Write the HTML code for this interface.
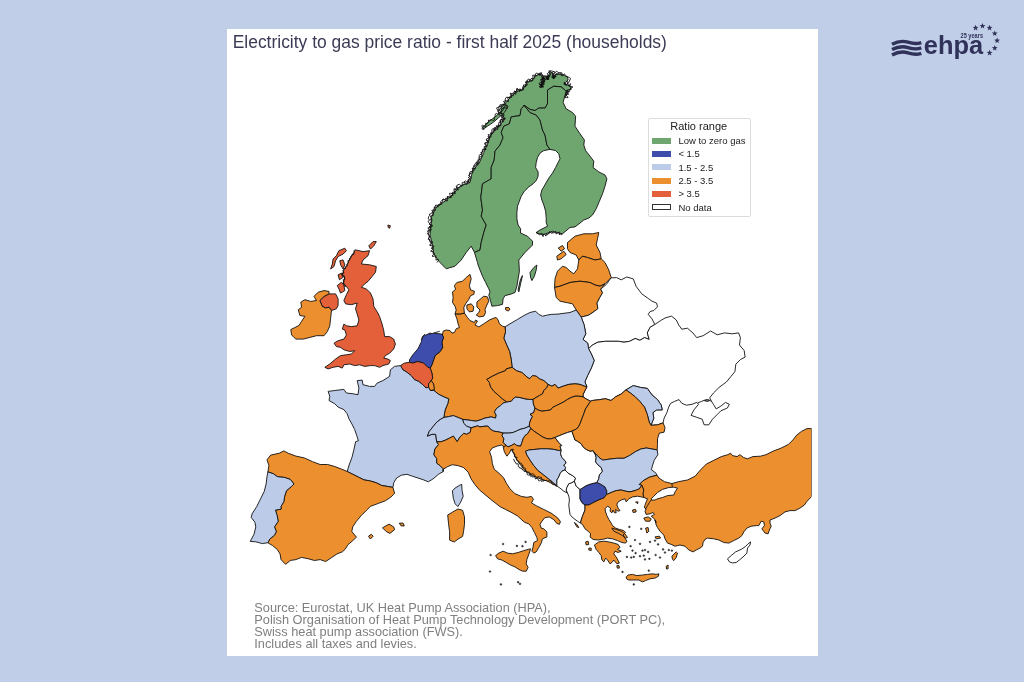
<!DOCTYPE html>
<html lang="en">
<head>
<meta charset="utf-8">
<title>Electricity to gas price ratio - first half 2025 (households)</title>
<style>
html,body{margin:0;padding:0;}
body{width:1024px;height:682px;background:#c0cee8;position:relative;overflow:hidden;font-family:"Liberation Sans",Arial,sans-serif;}
#panel{position:absolute;left:227px;top:29px;width:591.2px;height:626.5px;background:#fff;}
#title{position:absolute;left:232.7px;top:31.8px;font-size:17.46px;line-height:20px;color:#3b3b56;white-space:nowrap;}
#src div{position:absolute;left:254.3px;font-size:12.78px;line-height:11.85px;color:#808080;white-space:nowrap;}
#legend{position:absolute;left:647.8px;top:118px;width:101px;height:97px;border:1px solid #dcdcdc;border-radius:2px;background:#fff;box-sizing:content-box;}
#legend .lt{position:absolute;left:-0.6px;width:100%;top:1px;text-align:center;font-size:11px;line-height:13px;color:#222;}
#legend .sw{position:absolute;left:3.3px;width:19px;height:6px;}
#legend .lb{position:absolute;left:29.6px;font-size:9.5px;line-height:11px;color:#222;white-space:nowrap;}
#map{position:absolute;left:0;top:0;}
#logo{position:absolute;left:0;top:0;}
</style>
</head>
<body>
<div id="panel"></div>
<div id="title">Electricity to gas price ratio - first half 2025 (households)</div>
<svg id="map" width="1024" height="682" viewBox="0 0 1024 682">
<defs><clipPath id="mc"><rect x="227" y="60" width="584.6" height="540"/></clipPath></defs>
<g clip-path="url(#mc)" stroke="#111" stroke-width="0.9" stroke-linejoin="round">
<path fill="#6fa56f" d="M474.5,252.5 471.2,246.2 466.2,252.5 461.2,260.0 455.0,266.2 446.2,268.8 438.8,261.2 433.8,253.8 432.5,245.0 430.0,235.0 431.2,225.0 431.2,217.5 436.2,207.5 445.0,201.2 452.5,195.0 460.0,186.2 470.0,182.5 472.5,171.2 479.5,162.5 483.8,152.5 488.0,143.0 490.0,136.2 495.6,130.0 501.2,123.8 504.4,118.8 502.5,113.8 498.8,110.0 505.0,103.8 511.2,96.2 517.5,91.2 522.5,90.0 527.5,82.5 532.5,80.0 535.6,76.2 540.0,73.8 542.5,77.5 541.2,87.5 543.8,78.8 546.2,76.2 548.1,80.0 549.4,73.1 552.5,72.5 553.8,78.8 556.2,73.8 562.5,75.0 567.5,76.9 568.1,80.0 563.8,83.8 570.6,86.2 571.2,89.4 567.5,90.0 566.2,95.6 564.4,97.5 566.2,91.2 561.2,86.9 553.8,86.2 547.5,90.0 547.5,103.8 545.0,108.1 538.8,108.1 535.0,110.6 530.0,109.4 524.0,105.2 523.1,106.9 521.2,108.8 520.0,115.6 511.2,116.9 509.4,123.8 503.8,126.2 501.2,132.5 503.1,137.5 500.0,145.0 495.0,151.2 494.2,160.0 491.2,167.5 491.2,178.8 482.5,183.8 480.8,197.5 482.5,210.0 481.2,216.2 486.2,225.0 483.8,232.5 481.2,242.5 480.0,250.0 474.5,252.5Z"/>
<path fill="#6fa56f" d="M524.0,105.2 530.0,112.5 536.2,115.0 540.0,120.0 542.5,130.0 545.0,135.0 546.9,145.0 550.0,149.4 543.8,150.6 540.0,153.1 537.5,157.5 536.2,162.5 535.6,167.5 538.1,171.9 538.1,176.2 536.2,180.6 533.1,183.8 528.8,186.9 524.4,191.2 521.2,196.2 519.4,201.2 517.5,206.2 516.9,212.5 516.9,218.8 518.1,225.0 520.6,228.8 520.5,233.0 527.5,236.2 532.5,241.2 532.5,245.0 525.0,252.5 518.8,260.0 519.4,271.2 518.1,278.8 516.9,286.2 515.0,292.5 510.0,294.4 505.0,295.6 503.1,298.8 502.5,304.4 497.5,305.6 491.9,306.2 490.6,301.2 488.8,295.0 490.0,291.9 488.8,288.8 485.6,282.5 482.5,276.2 480.0,270.0 478.1,265.0 477.5,262.5 474.5,252.5 480.0,250.0 481.2,242.5 483.8,232.5 486.2,225.0 481.2,216.2 482.5,210.0 480.8,197.5 482.5,183.8 491.2,178.8 491.2,167.5 494.2,160.0 495.0,151.2 500.0,145.0 503.1,137.5 501.2,132.5 503.8,126.2 509.4,123.8 511.2,116.9 520.0,115.6 521.2,108.8 523.1,106.9 524.0,105.2ZM530.0,272.5 533.8,267.5 536.9,265.0 536.2,270.0 534.4,276.2 531.9,280.6 530.6,277.5ZM522.5,275.6 520.6,283.8 518.8,291.9 518.1,290.0 520.0,281.2 521.9,276.2Z"/>
<path fill="#6fa56f" d="M524.0,105.2 530.0,109.4 535.0,110.6 538.8,108.1 545.0,108.1 547.5,103.8 547.5,90.0 553.8,86.2 561.2,86.9 566.2,91.2 564.4,97.5 563.1,102.5 566.2,108.8 572.5,112.5 575.6,116.2 575.0,126.2 580.0,133.8 584.4,140.0 583.8,145.0 585.6,150.6 590.0,156.2 593.8,161.2 593.1,167.5 598.8,171.9 605.0,175.0 606.9,178.8 605.0,186.2 602.5,193.8 599.4,201.2 596.2,208.8 592.5,215.0 588.8,218.1 583.8,220.0 580.0,223.1 575.0,226.9 570.0,227.5 562.5,233.8 556.2,232.5 552.5,231.2 542.5,235.0 536.2,232.5 540.0,230.0 547.5,226.2 546.2,222.5 546.2,217.5 545.6,211.2 543.8,205.0 541.9,200.0 540.6,195.0 541.9,190.0 543.8,186.9 546.2,182.5 548.8,178.1 552.5,173.1 555.6,167.5 558.1,162.5 560.0,158.8 558.8,153.8 555.6,150.6 550.0,149.4 546.9,145.0 545.0,135.0 542.5,130.0 540.0,120.0 536.2,115.0 530.0,112.5Z"/>
<path fill="#6fa56f" d="M481.9,128.5 486.9,123.1 492.5,118.8 497.5,115.0 503.1,110.0 505.6,105.0 508.1,106.2 504.4,112.5 498.8,117.5 493.8,121.9 487.5,126.2 482.8,129.4Z"/>
<path fill="#ec8f2e" d="M578.8,260.0 576.2,255.0 570.0,252.5 567.5,248.8 567.5,242.5 575.0,236.2 583.8,233.8 592.5,233.8 598.8,232.5 597.5,238.8 596.2,245.0 600.0,252.5 601.2,258.8 595.0,260.0 587.5,257.5 582.5,256.2 578.8,260.0ZM558.2,248.0 562.5,245.5 564.5,248.8 561.2,251.2ZM556.8,256.2 563.8,251.2 566.2,254.5 561.2,258.8 557.5,260.0Z"/>
<path fill="#ec8f2e" d="M578.8,260.0 577.5,268.8 573.8,273.8 570.0,271.2 566.2,267.5 562.5,266.2 557.5,271.2 555.0,278.8 554.5,287.5 560.0,286.2 570.0,282.5 580.0,281.2 590.0,282.5 595.0,285.0 600.0,286.2 605.0,283.8 611.2,277.5 608.8,270.0 605.0,262.5 601.2,258.8 595.0,260.0 587.5,257.5 582.5,256.2Z"/>
<path fill="#ec8f2e" d="M554.5,287.5 556.2,297.5 560.0,301.2 566.2,302.5 572.5,303.8 576.2,310.0 581.2,317.1 588.6,315.2 594.2,311.5 597.9,308.7 597.0,303.1 599.8,297.5 602.6,292.8 600.7,289.1 605.0,283.8 600.0,286.2 595.0,285.0 590.0,282.5 580.0,281.2 570.0,282.5 560.0,286.2 554.5,287.5Z"/>
<path fill="#ffffff" d="M606.3,284.5 611.0,277.9 616.6,277.6 621.2,279.8 626.8,277.0 633.3,278.9 636.1,286.3 641.7,293.8 648.2,298.4 652.0,301.2 656.6,303.1 657.5,306.8 653.8,310.5 650.1,311.5 648.2,314.3 652.0,318.9 654.8,324.5 650.1,327.3 647.3,332.9 649.2,339.4 644.5,337.6 639.9,340.3 635.2,338.5 629.6,341.3 624.0,342.2 618.4,341.3 612.8,341.3 605.4,341.3 597.9,342.2 592.4,345.0 588.6,348.7 587.7,343.1 583.0,339.4 585.8,333.8 584.0,324.5 581.2,317.1 588.6,315.2 594.2,311.5 597.9,308.7 597.0,303.1 599.8,297.5 602.6,292.8 600.7,289.1Z"/>
<path fill="#ffffff" d="M654.8,324.5 660.3,320.8 665.0,318.0 671.5,316.1 676.2,319.9 679.0,325.4 681.8,329.2 687.4,328.2 692.9,332.9 696.7,337.6 703.2,335.7 710.6,331.0 717.2,334.8 724.6,332.9 732.1,333.8 738.6,332.9 740.4,337.6 739.5,345.0 744.2,350.6 745.1,357.1 740.4,359.6 735.8,364.2 734.9,371.7 731.1,376.3 726.5,381.9 719.0,387.5 713.4,393.1 709.7,397.8 711.6,401.5 713.4,404.3 716.2,408.9 720.9,406.1 725.5,402.4 729.3,404.3 727.4,408.0 720.9,410.8 717.2,414.5 712.5,419.2 708.8,424.8 704.1,424.8 702.2,419.2 696.7,417.3 691.1,415.4 693.9,409.9 698.5,404.3 696.7,402.4 692.0,404.3 686.4,405.2 681.8,403.3 679.0,399.6 674.3,401.5 670.6,403.3 668.7,407.1 666.9,412.6 664.1,418.2 663.1,422.9 657.5,424.8 651.0,425.3 653.8,418.2 652.9,412.6 656.6,409.9 662.2,409.9 661.3,405.2 657.5,399.6 652.0,394.9 647.3,388.4 640.8,387.5 633.3,385.6 625.9,389.9 621.2,394.0 615.6,396.8 611.0,400.5 605.4,398.7 599.8,399.6 592.4,400.5 590.6,401.2 586.9,399.4 583.1,396.9 583.1,394.4 585.0,390.6 586.9,386.9 584.9,381.9 587.7,375.4 591.4,367.9 594.2,360.5 591.4,354.0 588.6,348.8 592.4,345.0 597.9,342.2 605.4,341.3 612.8,341.3 618.4,341.3 624.0,342.2 629.6,341.3 635.2,338.5 639.9,340.3 644.5,337.6 649.2,339.4 647.3,332.9 650.1,327.3Z"/>
<path fill="#bccbe8" d="M625.9,389.9 630.5,393.1 635.2,396.8 639.9,401.5 644.5,407.1 647.3,414.5 649.2,422.0 651.0,425.3 653.8,418.2 652.9,412.6 656.6,409.9 662.2,409.9 661.3,405.2 657.5,399.6 652.0,394.9 647.3,388.4 640.8,387.5 633.3,385.6Z"/>
<path fill="#bccbe8" d="M505.0,326.9 510.0,323.8 517.5,319.4 523.8,315.6 530.0,312.5 535.6,311.2 538.8,314.4 542.5,316.2 547.5,315.0 551.2,314.4 558.0,314.1 560.0,313.8 570.0,312.5 576.2,310.0 581.2,317.1 584.0,324.5 585.8,333.8 583.0,339.4 587.7,343.1 588.6,348.7 591.4,354.0 594.2,360.5 591.4,367.9 587.7,375.4 584.9,381.9 586.8,386.6 584.4,386.2 580.0,384.4 575.0,383.8 568.8,384.4 563.1,386.2 558.1,388.1 555.0,384.4 551.9,386.2 548.1,384.4 543.8,380.6 539.4,378.8 536.2,376.2 532.5,375.6 529.4,378.8 526.9,376.9 521.9,372.5 516.2,370.6 512.1,367.3 511.3,359.8 509.6,351.5 506.3,344.0 503.8,338.2 505.5,331.6Z"/>
<path fill="#ec8f2e" d="M442.5,335.0 443.1,331.2 446.2,330.0 450.0,330.6 451.9,333.1 454.4,332.5 456.2,328.8 459.4,327.5 458.1,323.8 456.9,318.8 455.0,313.8 460.0,314.0 464.4,313.1 467.5,317.5 470.0,320.6 474.4,322.5 475.6,320.0 477.5,321.2 475.0,325.0 478.8,326.9 483.8,323.8 489.4,320.0 493.8,318.1 496.2,317.5 498.1,320.0 499.4,323.8 502.5,326.2 505.0,326.9 505.5,331.6 503.8,338.2 506.3,344.0 509.6,351.5 511.3,359.8 512.1,367.3 506.3,368.9 505.6,370.6 498.8,373.1 492.5,376.2 486.9,379.4 489.4,382.5 490.6,386.9 493.8,391.2 498.8,395.6 503.1,399.4 506.9,401.9 503.1,403.1 500.6,405.6 496.9,408.1 494.4,411.9 496.2,415.0 495.6,418.1 491.2,416.9 485.0,418.1 480.0,420.0 475.8,421.2 470.2,420.3 462.8,419.4 458.1,417.5 453.4,415.6 448.8,416.6 443.8,417.5 445.1,410.1 447.8,403.5 448.8,398.9 444.1,397.0 438.5,394.2 433.9,390.5 433.6,383.9 431.1,380.6 432.7,378.1 431.9,373.1 430.2,368.1 431.9,364.8 433.6,359.8 435.2,355.6 440.2,351.5 442.7,347.4 441.9,342.4 443.5,337.4 441.9,334.1Z"/>
<path fill="#ec8f2e" d="M464.4,313.1 460.0,314.0 455.0,313.8 456.2,310.0 455.0,306.2 452.5,302.5 453.1,297.5 452.5,291.9 455.6,289.4 454.4,285.6 456.9,282.5 462.5,281.2 466.2,277.5 470.0,274.4 471.2,278.8 469.4,285.6 470.6,290.0 474.4,291.2 473.8,294.4 470.6,295.6 468.8,299.4 465.6,303.8 463.8,307.5ZM466.9,305.0 471.2,303.8 473.8,306.9 473.1,311.2 469.4,311.9 466.9,308.8ZM476.9,301.9 480.0,299.4 483.8,296.2 487.5,296.9 488.8,301.2 486.9,305.0 485.0,309.4 485.6,312.5 483.8,316.2 479.4,316.9 476.2,315.0 478.8,312.5 480.0,310.0 476.9,306.9ZM505.6,307.5 508.8,307.5 510.0,309.4 508.1,311.0 505.6,309.8Z"/>
<path fill="#3e4cab" d="M409.5,362.3 409.5,359.8 412.8,354.8 417.8,349.0 421.1,342.4 422.8,336.6 427.8,334.1 434.4,333.2 441.9,334.1 443.5,337.4 441.9,342.4 442.7,347.4 440.2,351.5 435.2,355.6 433.6,359.8 431.9,364.8 430.2,368.1 427.8,367.3 423.6,363.1 417.8,361.5 412.8,363.1Z"/>
<path fill="#e4603a" d="M400.4,365.6 404.5,363.1 409.5,362.3 412.8,363.1 417.8,361.5 423.6,363.1 427.8,367.3 430.2,368.1 431.9,373.1 432.7,378.1 431.1,380.6 428.6,383.9 428.6,387.2 426.1,388.0 422.8,384.7 418.6,381.4 414.5,379.7 411.1,375.6 407.0,372.3 402.9,369.8Z"/>
<path fill="#ec8f2e" d="M431.1,380.6 428.6,383.9 428.6,387.2 430.2,390.5 434.4,389.7 433.6,383.9Z"/>
<path fill="#bccbe8" d="M400.4,365.6 394.6,366.4 390.4,369.8 389.6,376.4 382.9,380.6 377.1,383.1 374.6,386.4 369.6,386.4 363.0,384.7 362.2,380.1 357.2,380.6 358.9,388.0 358.0,394.7 353.1,393.8 346.4,393.0 343.9,389.4 334.8,390.5 328.1,391.4 329.8,396.3 329.0,400.5 334.8,403.8 338.1,407.1 343.9,409.6 347.2,413.8 348.9,418.7 351.9,424.0 354.7,429.6 356.6,435.2 358.4,440.8 355.6,441.7 353.8,450.1 351.9,457.6 349.1,465.0 347.2,471.5 352.8,474.3 358.4,477.1 364.0,479.9 369.6,480.8 376.1,482.7 381.7,485.5 387.3,486.4 392.9,487.4 393.8,482.7 396.6,478.0 401.3,475.2 406.9,474.3 412.4,476.2 418.0,478.0 423.6,479.9 428.3,481.8 432.9,479.0 438.5,474.3 443.2,471.5 443.2,468.7 440.4,465.9 436.7,463.1 436.7,458.5 433.9,454.8 434.8,449.2 438.5,444.5 436.7,441.7 435.7,434.3 432.0,434.3 427.4,436.1 429.2,431.5 432.9,426.8 436.7,422.2 440.4,419.4 443.8,417.5 445.1,410.1 447.8,403.5 448.8,398.9 444.1,397.0 438.5,394.2 433.9,390.5 430.2,390.5 428.6,387.2 426.1,388.0 422.8,384.7 418.6,381.4 414.5,379.7 411.1,375.6 407.0,372.3 402.9,369.8ZM452.4,490.8 455.1,488.0 459.8,485.2 461.7,484.3 462.0,489.9 463.2,496.4 460.7,502.0 457.9,506.6 455.1,503.8 453.3,498.2Z"/>
<path fill="#bccbe8" d="M443.8,417.5 440.4,419.4 436.7,422.2 432.9,426.8 429.2,431.5 427.4,436.1 432.0,434.3 435.7,434.3 436.7,441.7 441.3,441.7 446.0,439.9 449.7,438.0 453.4,436.1 457.2,441.7 459.9,437.1 463.7,433.3 466.5,434.3 470.2,432.4 471.1,427.8 466.5,425.9 463.7,423.1 462.8,419.4 458.1,417.5 453.4,415.6 448.8,416.6Z"/>
<path fill="#bccbe8" d="M462.8,419.4 470.2,420.3 475.8,421.2 480.0,420.0 485.0,418.1 491.2,416.9 495.6,418.1 496.2,415.0 494.4,411.9 496.9,408.1 500.6,405.6 503.1,403.1 506.9,401.9 511.2,401.2 513.1,398.8 515.6,396.9 520.0,397.5 525.0,398.8 529.4,399.4 533.1,399.4 533.4,403.8 535.0,408.1 533.8,412.5 530.0,414.4 532.5,416.2 530.6,420.0 529.4,423.8 529.4,426.2 525.0,428.1 520.0,429.4 516.2,431.2 513.1,432.5 508.8,433.1 503.1,433.1 498.8,431.9 493.8,431.2 490.6,429.4 488.1,426.2 485.0,426.2 480.0,426.9 477.6,425.9 471.1,427.8 466.5,425.9 463.7,423.1Z"/>
<path fill="#ec8f2e" d="M512.1,367.3 516.2,370.6 521.9,372.5 526.9,376.9 529.4,378.8 532.5,375.6 536.2,376.2 539.4,378.8 543.8,380.6 548.1,384.4 546.9,387.5 543.8,390.6 542.5,393.8 539.4,395.6 535.0,398.1 533.1,399.4 529.4,399.4 525.0,398.8 520.0,397.5 515.6,396.9 513.1,398.8 511.2,401.2 506.9,401.9 503.1,399.4 498.8,395.6 493.8,391.2 490.6,386.9 489.4,382.5 486.9,379.4 492.5,376.2 498.8,373.1 505.6,370.6 506.3,368.9Z"/>
<path fill="#ec8f2e" d="M548.1,384.4 551.9,386.2 555.0,384.4 558.1,388.1 563.1,386.2 568.8,384.4 575.0,383.8 580.0,384.4 584.4,386.2 586.9,386.9 585.0,390.6 583.1,394.4 583.1,396.9 578.8,396.2 575.0,396.2 571.2,397.5 567.5,399.4 563.8,401.9 560.0,403.8 556.2,405.6 552.5,407.5 550.6,410.0 546.2,410.6 541.9,411.2 538.1,410.0 535.0,408.1 533.4,403.8 533.1,399.4 535.0,398.1 539.4,395.6 542.5,393.8 543.8,390.6 546.9,387.5Z"/>
<path fill="#ec8f2e" d="M535.0,408.1 538.1,410.0 541.9,411.2 546.2,410.6 550.6,410.0 552.5,407.5 556.2,405.6 560.0,403.8 563.8,401.9 567.5,399.4 571.2,397.5 575.0,396.2 578.8,396.2 583.1,396.9 586.9,399.4 590.6,401.2 588.1,405.0 585.6,408.8 583.8,413.8 581.9,418.8 580.0,423.8 578.1,427.5 575.6,429.4 571.9,431.2 567.5,432.5 562.5,434.4 558.1,436.2 555.0,437.5 551.2,438.8 546.9,438.8 542.5,436.9 538.8,434.4 535.0,431.9 531.9,429.4 530.6,428.5 529.4,426.2 529.4,423.8 530.6,420.0 532.5,416.2 530.0,414.4 533.8,412.5Z"/>
<path fill="#bccbe8" d="M503.1,433.1 508.8,433.1 513.1,432.5 516.2,431.2 520.0,429.4 525.0,428.1 529.4,426.2 530.6,428.5 530.0,430.0 527.5,433.8 525.0,435.6 523.1,438.8 521.9,442.5 520.6,446.2 516.9,445.6 514.4,443.8 511.2,445.6 508.1,446.9 505.6,445.0 503.1,442.5 503.8,438.8 501.9,435.6Z"/>
<path fill="#ec8f2e" d="M530.6,428.5 531.9,429.4 535.0,431.9 538.8,434.4 542.5,436.9 546.9,438.8 551.2,438.8 555.0,437.5 556.9,440.0 558.8,442.5 561.9,445.6 560.0,446.2 561.2,450.0 558.8,450.6 553.8,449.4 547.5,448.8 541.2,448.8 535.0,449.4 528.8,450.0 525.6,451.2 526.9,455.0 530.0,460.0 533.8,465.6 538.1,470.6 543.8,475.0 549.4,479.4 553.8,483.1 556.9,486.0 552.5,483.8 547.5,481.2 541.9,479.4 536.9,477.5 530.6,474.4 525.0,470.6 520.6,465.0 516.9,460.0 513.8,453.8 511.2,449.4 509.4,453.1 506.9,456.2 504.4,451.9 503.1,446.9 505.6,445.0 508.1,446.9 511.2,445.6 514.4,443.8 516.9,445.6 520.6,446.2 521.9,442.5 523.1,438.8 525.0,435.6 527.5,433.8 530.0,430.0Z"/>
<path fill="#bccbe8" d="M556.9,486.0 553.8,483.1 549.4,479.4 543.8,475.0 538.1,470.6 533.8,465.6 530.0,460.0 526.9,455.0 525.6,451.2 528.8,450.0 535.0,449.4 541.2,448.8 547.5,448.8 553.8,449.4 558.8,450.6 561.2,450.0 560.6,453.8 561.9,457.5 565.0,460.6 566.2,463.1 563.8,465.0 565.6,467.5 565.0,470.0 561.9,471.2 560.0,473.8 558.8,476.9 556.9,480.0 556.9,483.8Z"/>
<path fill="#ffffff" d="M556.9,486.0 556.9,483.8 556.9,480.0 558.8,476.9 560.0,473.8 561.9,471.2 565.0,470.0 568.1,473.1 572.5,475.6 575.6,478.1 574.4,481.2 571.2,483.1 568.8,483.8 566.9,487.5 566.2,490.0 567.5,493.1 563.8,491.2 560.0,488.1Z"/>
<path fill="#ffffff" d="M567.5,493.1 566.2,490.0 566.9,487.5 568.8,483.8 571.2,483.1 574.4,481.2 576.2,486.2 580.0,489.4 580.0,493.8 580.0,498.8 581.9,502.5 585.0,505.0 585.0,510.0 582.5,516.2 581.2,520.0 580.6,523.1 577.5,521.2 575.0,519.4 571.9,516.9 570.0,514.4 569.4,510.0 568.8,505.0 569.4,500.0 568.8,496.2Z"/>
<path fill="#3e4cab" d="M580.0,489.4 581.2,488.8 586.2,485.6 591.2,483.8 596.9,482.5 601.2,484.4 605.0,486.9 606.9,491.2 606.5,494.6 603.8,498.1 600.0,499.4 596.2,501.2 592.5,503.1 588.8,505.0 585.0,505.0 581.9,502.5 580.0,498.8 580.0,493.8Z"/>
<path fill="#ffffff" d="M555.0,437.5 558.1,436.2 562.5,434.4 567.5,432.5 571.9,431.2 575.0,440.0 577.5,441.2 581.2,443.8 583.1,446.9 586.2,449.4 590.0,451.2 593.1,450.6 593.8,451.9 595.0,453.8 596.2,457.5 595.6,461.9 598.1,465.0 601.2,467.5 602.5,471.2 599.4,475.0 598.8,478.8 596.9,482.5 591.2,483.8 586.2,485.6 581.2,488.8 580.0,489.4 576.2,486.2 574.4,481.2 575.6,478.1 572.5,475.6 568.1,473.1 565.0,470.0 565.6,467.5 563.8,465.0 566.2,463.1 565.0,460.6 561.9,457.5 560.6,453.8 561.2,450.0 560.0,446.2 561.9,445.6 558.8,442.5 556.9,440.0Z"/>
<path fill="#ec8f2e" d="M590.6,401.2 592.4,400.5 599.8,399.6 605.4,398.7 611.0,400.5 615.6,396.8 621.2,394.0 625.9,389.9 630.5,393.1 635.2,396.8 639.9,401.5 644.5,407.1 647.3,414.5 649.2,422.0 651.0,425.3 657.5,424.8 663.1,422.9 665.0,427.6 664.1,432.2 659.4,433.1 657.5,438.7 657.5,444.3 657.2,449.9 652.0,449.0 646.4,448.0 640.8,449.0 635.2,451.8 629.6,455.5 624.0,458.3 616.6,458.3 609.1,459.2 602.6,460.1 598.9,457.4 593.8,451.9 593.1,450.6 590.0,451.2 586.2,449.4 583.1,446.9 581.2,443.8 577.5,441.2 575.0,440.0 571.9,431.2 575.6,429.4 578.1,427.5 580.0,423.8 581.9,418.8 583.8,413.8 585.6,408.8 588.1,405.0Z"/>
<path fill="#bccbe8" d="M593.8,451.9 598.9,457.4 602.6,460.1 609.1,459.2 616.6,458.3 624.0,458.3 629.6,455.5 635.2,451.8 640.8,449.0 646.4,448.0 652.0,449.0 657.2,449.9 657.9,454.7 654.2,460.3 652.4,465.9 651.4,469.6 656.1,473.3 657.0,475.2 649.6,477.1 643.0,480.8 639.3,484.5 641.9,485.0 639.4,488.8 635.0,490.6 630.0,491.9 625.6,491.2 621.2,490.0 616.2,490.6 611.2,492.5 606.5,494.6 606.9,491.2 605.0,486.9 601.2,484.4 596.9,482.5 598.8,478.8 599.4,475.0 602.5,471.2 601.2,467.5 598.1,465.0 595.6,461.9 596.2,457.5 595.0,453.8Z"/>
<path fill="#ec8f2e" d="M585.0,505.0 588.8,505.0 592.5,503.1 596.2,501.2 600.0,499.4 603.8,498.1 606.5,494.6 611.2,492.5 616.2,490.6 621.2,490.0 625.6,491.2 630.0,491.9 635.0,490.6 639.4,488.8 641.9,485.0 643.8,490.0 643.1,493.8 643.8,497.5 641.2,496.9 637.5,496.2 632.5,496.9 628.8,498.8 626.2,501.9 625.0,498.8 621.2,500.0 617.5,502.5 616.9,505.0 618.1,508.1 620.0,510.6 618.1,511.2 615.6,509.4 616.2,512.8 614.4,512.8 613.1,510.0 611.9,512.8 610.0,511.2 610.6,508.1 607.5,506.2 605.0,508.8 605.6,511.9 606.9,515.6 608.8,519.4 611.2,523.1 612.5,525.6 615.6,528.1 619.4,529.4 623.8,530.6 625.6,532.5 623.1,535.0 625.0,538.1 626.9,541.2 625.6,543.1 621.9,542.5 617.5,540.6 612.5,538.8 607.5,538.1 602.5,539.4 598.1,540.0 593.1,539.4 590.0,536.9 590.6,533.8 588.1,531.2 585.0,528.8 582.5,524.4 580.6,523.1 581.2,520.0 582.5,516.2 585.0,510.0ZM594.4,545.0 598.8,541.9 603.8,541.2 608.8,541.9 613.8,543.1 618.1,544.4 620.0,547.5 617.5,549.4 621.2,551.2 618.1,552.5 615.0,551.2 613.8,553.8 616.9,558.1 619.4,563.1 616.9,563.8 613.8,560.0 611.9,562.5 610.0,563.8 607.5,560.0 605.6,558.1 603.8,561.9 601.9,560.0 601.2,555.6 598.8,552.5 596.2,549.4ZM611.9,528.1 616.2,529.4 621.2,531.2 625.0,533.8 627.5,537.5 625.6,538.1 622.5,535.6 618.1,533.1 613.8,531.2ZM626.2,576.9 628.1,575.0 632.5,574.4 636.9,575.6 642.5,575.0 647.5,574.4 652.5,573.8 656.2,574.4 658.8,573.8 658.5,576.2 655.0,578.1 650.0,578.8 645.6,580.6 642.5,581.9 638.8,580.0 633.8,580.0 628.8,580.0 626.5,578.8ZM671.9,556.2 676.2,551.9 677.5,553.1 676.2,557.5 673.8,560.6 672.5,559.4ZM643.8,518.1 648.1,516.9 651.2,518.8 650.0,521.2 645.6,521.2ZM645.6,528.1 648.1,527.5 648.8,531.2 646.9,533.1ZM655.0,536.9 659.4,536.2 660.6,538.1 656.2,538.8ZM632.5,510.0 635.6,509.4 636.2,511.9 633.1,512.5ZM635.6,501.9 638.1,501.9 637.5,503.8ZM585.6,541.9 588.1,541.2 588.8,544.4 586.2,545.0ZM588.8,548.1 591.2,548.1 591.2,550.6 588.8,550.0ZM574.4,522.5 576.9,524.4 578.8,527.5 576.9,526.9ZM666.2,566.2 668.1,565.0 668.1,568.8 666.5,569.0ZM616.9,565.6 619.0,565.6 619.4,568.1 617.2,568.1Z"/>
<path fill="#ec8f2e" d="M641.9,485.0 639.3,484.5 643.0,480.8 649.6,477.1 657.0,475.2 658.9,478.0 664.5,481.7 671.9,483.6 678.4,481.7 687.8,479.9 695.2,476.1 700.8,469.6 706.4,464.0 713.8,460.3 721.3,456.6 727.8,454.7 730.6,453.2 732.5,455.6 737.1,456.6 739.9,454.7 743.6,457.5 747.4,458.8 752.9,456.6 760.4,456.2 766.0,454.7 773.4,451.0 780.9,448.2 788.3,444.5 793.0,439.8 796.7,435.1 801.4,431.4 807.0,428.6 811.6,428.6 811.6,496.6 807.0,501.3 804.4,505.0 800.0,508.1 795.0,510.6 790.0,510.6 785.0,511.9 780.0,515.6 775.0,518.1 770.0,520.0 770.0,523.1 771.2,526.2 769.4,530.0 768.1,533.8 765.0,533.1 761.9,528.8 764.4,525.6 763.8,521.9 761.2,521.2 758.8,525.6 756.2,525.6 751.2,526.2 746.9,528.1 743.8,531.9 741.9,535.6 738.8,538.1 733.8,540.6 728.8,543.1 723.8,542.5 718.8,540.0 713.8,538.8 707.5,538.1 705.0,539.4 703.1,542.5 702.5,546.2 700.0,548.1 696.2,550.0 693.1,551.9 688.8,550.0 685.0,546.2 680.0,545.0 677.5,545.6 675.0,546.2 671.2,544.4 667.5,543.1 665.0,538.8 663.8,535.0 660.0,531.2 657.5,527.5 656.2,525.0 655.0,520.0 656.2,522.5 654.4,518.8 651.2,516.2 654.4,514.4 653.1,512.5 650.0,513.8 646.2,514.4 645.0,511.2 646.2,508.8 645.0,508.5 644.4,506.9 646.2,501.9 647.5,498.8 643.8,497.5 643.1,493.8 643.8,490.0Z"/>
<path fill="#ffffff" d="M651.2,498.8 653.8,496.2 657.5,492.5 662.5,489.4 668.8,487.5 673.8,487.2 677.5,488.1 675.0,491.9 673.8,495.0 667.5,495.6 662.5,497.5 657.5,498.8 655.0,500.0 651.9,500.2Z"/>
<path fill="#ffffff" d="M727.5,558.8 731.2,555.6 735.6,551.9 741.2,549.4 745.0,546.9 748.1,543.8 750.6,541.9 750.0,545.0 747.5,548.1 746.9,553.1 743.1,556.9 739.4,560.0 736.2,562.5 732.5,562.9 729.4,561.9Z"/>
<path fill="#ec8f2e" d="M443.2,471.5 443.2,468.7 440.4,465.9 436.7,463.1 436.7,458.5 433.9,454.8 434.8,449.2 438.5,444.5 436.7,441.7 441.3,441.7 446.0,439.9 449.7,438.0 453.4,436.1 457.2,441.7 459.9,437.1 463.7,433.3 466.5,434.3 470.2,432.4 471.1,427.8 477.6,425.9 480.0,426.9 485.0,426.2 488.1,426.2 490.6,429.4 493.8,431.2 498.8,431.9 503.1,433.1 501.9,435.6 503.8,438.8 503.1,442.5 505.6,445.0 504.5,447.0 501.7,445.1 497.1,446.1 492.4,447.9 489.6,451.7 491.5,457.2 492.4,463.8 494.3,469.4 498.9,473.1 503.6,477.8 506.4,483.3 510.1,488.9 514.8,493.6 521.3,496.4 526.9,497.3 531.5,496.4 533.4,499.2 531.5,502.9 536.2,505.7 543.6,509.4 551.1,513.1 557.6,517.8 560.4,521.5 559.5,524.3 556.7,523.4 553.9,519.7 549.2,516.9 544.6,517.8 541.8,521.5 540.0,524.4 541.2,528.1 543.8,528.8 546.9,531.9 546.9,536.9 542.5,538.8 541.2,543.1 538.8,547.5 536.2,551.9 533.8,553.1 531.9,551.2 533.1,546.9 533.8,542.5 537.5,540.6 536.9,537.5 534.4,532.5 531.9,527.5 528.8,523.8 525.0,522.5 521.9,520.0 517.5,515.9 511.0,512.2 505.4,509.4 499.9,506.6 495.2,502.9 490.5,499.2 484.9,494.5 479.4,489.9 474.7,484.3 471.0,478.7 468.2,472.2 463.5,467.5 457.9,465.6 452.4,464.7 447.7,466.6 443.0,469.4ZM495.6,555.6 498.8,553.1 503.1,551.2 507.5,553.1 512.5,553.8 518.1,552.5 523.8,550.6 528.1,549.4 530.6,548.8 528.8,554.4 526.9,559.4 526.2,563.8 528.1,567.5 526.2,571.2 522.5,571.2 518.8,569.4 515.0,566.9 510.6,565.0 506.2,562.5 501.9,560.0 497.5,558.8ZM447.7,515.0 452.4,512.2 457.9,509.0 462.6,510.3 464.5,516.9 464.5,524.3 463.5,531.8 462.6,536.4 457.9,539.2 454.2,542.0 449.6,540.1 449.6,531.8 448.6,524.3Z"/>
<path fill="#ec8f2e" d="M267.9,471.9 268.9,465.4 267.0,459.8 270.7,455.1 279.1,453.3 283.8,450.9 288.4,453.3 295.9,456.1 304.3,457.9 312.6,461.7 320.1,464.5 327.6,464.5 334.1,466.3 341.5,469.1 347.2,471.5 352.8,474.3 358.4,477.1 364.0,479.9 369.6,480.8 376.1,482.7 381.7,485.5 387.3,486.4 392.9,487.4 394.6,493.3 390.9,497.1 385.3,500.8 377.8,503.6 370.4,506.4 366.7,510.1 361.1,515.7 356.4,521.3 352.7,526.9 351.8,531.5 356.4,537.1 352.7,540.8 348.0,544.6 345.2,549.2 342.4,551.8 336.9,554.0 331.3,557.8 325.7,561.5 320.1,559.6 314.5,560.5 308.0,558.7 301.5,557.4 295.9,559.6 290.3,560.5 285.6,564.3 281.0,559.6 280.1,554.0 277.2,549.4 272.6,545.6 267.9,542.8 267.9,542.7 269.8,539.0 274.5,535.2 276.3,531.5 274.5,526.9 278.2,521.3 277.2,515.7 275.4,510.1 281.0,509.2 281.0,506.4 283.8,501.7 284.7,496.1 286.6,490.5 291.2,486.8 294.0,484.0 290.3,479.4 284.7,477.5 277.2,476.6 273.5,473.8ZM382.5,527.8 389.0,524.1 393.7,526.9 394.6,529.7 389.9,533.4 386.2,531.5ZM399.3,523.1 403.0,523.1 404.3,525.9 401.1,525.9ZM368.5,536.2 371.3,534.3 373.2,536.2 370.4,539.0Z"/>
<path fill="#bccbe8" d="M267.9,471.9 273.5,473.8 277.2,476.6 284.7,477.5 290.3,479.4 294.0,484.0 291.2,486.8 286.6,490.5 284.7,496.1 283.8,501.7 281.0,506.4 281.0,509.2 275.4,510.1 277.2,515.7 278.2,521.3 274.5,526.9 276.3,531.5 274.5,535.2 269.8,539.0 267.9,542.7 262.4,543.6 255.8,541.8 250.2,541.4 254.0,534.3 255.8,526.9 254.9,522.2 251.2,517.5 252.1,513.8 256.8,506.4 260.5,498.9 264.2,491.5 266.1,484.0 267.0,476.6Z"/>
<path fill="#e4603a" d="M355.5,249.9 363.0,251.6 369.6,250.7 368.0,255.7 363.0,259.9 361.4,264.0 369.6,264.8 376.3,266.5 375.5,272.3 372.1,276.5 368.0,281.4 364.7,283.9 361.4,287.3 366.3,288.9 370.5,293.1 373.0,298.9 373.8,306.4 377.9,313.0 379.6,316.6 382.1,324.1 383.8,330.8 384.6,336.6 389.6,336.6 393.7,339.1 395.4,344.0 393.7,349.0 389.6,353.2 385.4,355.6 383.8,358.1 387.9,359.0 390.4,360.6 388.7,364.0 382.9,365.6 379.6,367.3 374.6,365.6 370.5,365.6 364.7,366.4 359.7,364.8 354.7,365.6 349.7,364.0 343.9,364.8 342.3,368.1 338.1,366.4 333.1,367.3 328.1,368.9 324.8,367.3 329.8,364.0 335.6,359.0 340.6,355.6 346.4,354.8 351.4,354.0 354.7,350.7 349.7,351.5 343.9,349.8 340.6,347.4 336.4,346.5 334.0,343.2 338.1,340.7 343.9,339.1 346.4,334.9 344.8,329.9 342.3,329.1 343.9,324.1 346.4,325.8 351.4,326.6 357.2,325.8 358.9,320.0 357.2,314.1 355.5,308.8 357.2,303.0 351.4,304.7 345.6,303.9 343.9,300.5 346.4,294.7 348.9,289.8 346.4,286.4 343.1,283.1 344.8,278.1 342.3,274.8 343.9,269.8 346.4,266.5 348.9,260.7 352.2,254.9ZM329.0,293.9 324.0,296.4 319.8,300.5 322.3,306.4 325.6,308.0 329.0,307.2 331.5,310.5 336.4,308.8 338.1,305.5 338.1,298.9 335.6,293.9ZM338.9,250.7 344.8,248.2 346.4,250.7 343.1,254.1 338.1,256.5 335.6,260.7 334.0,266.5 330.6,269.0 332.3,264.0 333.1,259.0 336.4,255.7ZM339.8,260.7 343.1,259.9 344.8,264.8 343.1,269.0 340.6,264.8ZM337.3,285.6 341.4,282.3 343.9,284.8 344.8,290.6 340.6,293.1 338.9,288.9ZM338.1,274.8 341.8,273.1 343.1,277.3 339.4,279.8ZM368.8,245.8 373.0,241.6 376.3,241.6 373.8,245.8 370.5,249.1ZM387.9,225.0 390.4,225.8 389.6,228.3 388.2,227.5Z"/>
<path fill="#ec8f2e" d="M331.5,310.5 329.0,307.2 325.6,308.0 322.3,306.4 319.8,300.5 324.0,296.4 329.0,293.9 329.0,291.4 324.0,290.6 318.2,292.2 314.0,296.4 316.5,300.5 310.7,301.4 304.9,299.7 300.8,302.2 301.6,307.2 298.3,309.7 299.9,315.5 304.9,316.3 301.6,321.3 299.1,325.4 294.1,327.9 290.8,329.6 291.6,334.9 295.8,339.1 303.2,339.1 309.9,337.4 316.5,335.7 324.0,335.7 327.3,331.6 329.8,325.8 330.6,318.3Z"/>
<polyline fill="none" points="421.3,339.8 422.6,336.5 425.2,333.9"/>
<polyline fill="none" points="428.7,333.3 430.9,333.1"/>
<polyline fill="none" points="433.7,332.9 435.9,332.4 439.7,331.3"/>
<polyline fill="none" points="651.5,499.5 649.4,502.5 647.5,505.6 645.8,508.5"/>
<polyline fill="none" points="671.9,483.6 672.3,486.8"/>
<polyline fill="none" points="697.6,403.0 701.3,401.5 704.5,400.2 708.8,399.8 711.6,401.5"/>
<polyline fill="none" points="704.5,400.7 706.9,399.6 709.3,400.7 707.5,401.5 704.5,400.7"/>
<g fill="none" stroke-width="0.9">
<path d="M436.9,262.5 438.9,260.1 438.1,259.5 435.8,260.0 436.2,258.6 435.5,258.0 435.7,256.8 435.7,255.7 432.7,256.6 432.0,256.0 434.5,253.6 432.6,252.9 433.9,251.7 430.6,251.2 432.3,250.0 433.3,248.9 431.1,248.2 433.9,246.8 433.6,245.8 429.9,245.6 429.7,244.7 431.5,243.3 432.9,242.0 430.4,241.7 429.5,240.9 430.1,239.8 428.3,239.3 428.9,238.2 429.5,237.1 429.5,236.1 428.2,234.8 428.3,233.9 428.4,232.9 429.5,232.2 428.9,231.2 427.9,230.1 431.4,229.6 430.3,228.6 430.8,227.7 429.0,226.6 432.5,226.1 432.1,225.0 429.0,224.1 429.8,223.1 431.5,222.2 431.4,221.2 432.4,220.3 430.2,219.4 431.9,218.4 431.3,217.5 430.3,216.0 431.8,215.7 433.3,215.4 433.6,214.5 432.7,213.0 433.5,212.4 431.8,210.5 433.0,210.0 435.5,210.2 434.5,208.7 434.0,207.4 436.0,207.1 437.1,207.1 437.9,206.4 437.9,204.8 438.9,204.4 439.8,204.1 441.3,204.5 441.5,203.0 441.9,202.0 443.0,201.8 442.6,199.6 443.3,199.2 445.8,200.7 447.4,201.0 447.1,199.1 447.3,197.9 447.4,196.5 449.1,197.0 451.1,197.9 451.3,196.6 451.4,195.2 453.1,195.5 451.7,193.1 453.3,193.1 455.3,193.6 454.7,191.8 455.0,190.8 455.0,189.5 456.5,189.6 458.4,190.0 456.0,186.6 459.1,188.0 459.9,187.4 460.3,187.1 461.0,186.2 462.0,186.1 462.5,184.6 463.5,184.5 464.2,183.6 464.6,181.8 466.7,184.7 467.1,183.1 467.5,181.3 468.9,182.2 469.3,182.3 468.9,181.3 469.1,180.3 470.1,179.6 470.7,178.7 470.8,177.8 470.4,176.7 468.8,175.4 469.9,174.6 469.9,173.6 471.7,173.1 473.1,172.4 472.9,171.6 473.5,170.9 474.2,170.2 472.9,168.0 475.4,168.8 475.4,167.6 474.1,165.3 474.5,164.4 475.0,163.7 478.0,164.9 477.0,162.9 477.1,161.8 479.3,162.4 478.6,161.1 477.9,159.9 478.6,159.2 480.4,158.9 479.3,157.5 480.1,156.9 482.2,156.7 481.5,155.5 481.4,154.4 482.3,153.8 480.9,152.3 482.7,152.0 483.2,151.2 482.7,150.0 482.8,149.0 486.2,149.4 485.1,147.9 484.3,146.5 486.2,146.3 487.4,145.8 484.8,143.6 485.1,142.8 485.9,142.4 488.5,142.1 486.5,140.5 489.0,140.2 489.2,139.2 488.9,138.0 487.9,136.7 491.0,137.1 491.0,135.9 490.8,134.4 490.5,132.9 492.4,133.4 492.3,132.0 493.5,131.8 493.3,130.4 494.9,130.6 493.7,128.3 495.1,128.3 497.8,129.5 498.1,128.5 497.0,126.2 499.3,127.1 498.3,124.8 500.8,125.9 500.9,124.7 500.4,123.2 500.3,122.0 500.0,120.6 503.6,121.7 501.1,119.0 504.4,119.9 505.5,118.3 503.6,117.9 501.7,117.5 504.0,115.5 504.1,114.3 502.6,113.6 501.3,113.5 500.1,113.1 499.3,112.4 498.1,112.1 498.8,110.0 498.8,108.6 498.7,107.2 499.2,106.2 501.5,107.2 501.1,105.4 502.4,105.3 502.6,104.1 504.9,105.1 505.8,104.4 503.5,101.3 504.7,101.0 505.8,100.6 508.5,101.6 508.5,100.3 507.7,98.4 507.9,97.3 510.0,97.8 511.2,97.5 511.9,97.1 511.2,94.6 513.4,95.7 513.6,94.4 513.9,93.2 516.0,94.2 514.8,91.1 516.9,92.1 516.9,88.9 518.0,89.0 519.7,91.7 520.0,88.7 521.6,90.6 522.3,89.8 523.6,89.7 522.5,87.8 522.9,87.0 523.2,86.1 525.7,86.7 525.3,85.4 527.0,85.4 527.3,84.5 525.1,82.0 527.3,82.1 527.3,80.0 528.0,79.3 528.9,79.0 531.2,81.6 531.9,80.9 533.0,80.4 532.1,78.4 533.6,78.4 534.7,78.1 534.1,76.2 535.4,75.9 535.6,74.1 536.2,73.1 537.4,73.3 539.6,75.1 540.4,73.5 539.6,75.1 541.7,74.8 542.9,75.1 541.6,77.0 541.8,77.4 545.1,78.7 542.3,79.3 544.6,80.5 544.3,81.4 541.0,81.9 544.4,83.3 543.5,84.1 540.3,84.6 542.5,85.8 543.7,86.9 539.2,86.9 539.8,86.1 542.1,85.8 539.7,84.2 543.2,84.3 541.3,82.8 544.0,82.6 544.0,81.7 541.7,80.1 541.8,79.1 543.2,78.2 542.9,76.2 545.4,77.0 548.6,75.1 549.2,76.0 546.0,78.7 549.0,78.4 547.8,79.9 547.4,78.9 547.0,77.8 546.2,76.6 549.9,76.3 550.3,75.3 550.5,74.3 548.9,70.8 550.1,71.1 551.4,72.5 551.2,72.8 553.2,73.3 552.8,74.3 553.1,75.2 554.9,75.7 553.9,76.9 555.1,77.6 552.2,78.0 552.0,76.8 553.1,76.4 556.2,76.8 554.6,75.0 555.8,74.6 556.3,73.7 556.9,75.1 558.3,73.0 559.2,72.8 560.1,73.1 561.0,73.2 561.5,75.6 562.2,75.9 564.0,73.9 565.0,74.4 565.7,75.6 566.6,76.2 567.8,76.8 569.4,77.6 570.6,78.4 569.3,81.3 569.0,82.5 567.0,81.6 567.6,83.8 566.8,84.4 564.6,83.2 564.3,82.3 564.4,84.6 565.7,83.7 566.0,85.5 567.9,83.0 568.3,84.7 568.7,86.1 570.6,83.6 569.5,86.5 572.9,86.9 570.6,88.4 571.0,88.1 570.2,88.9 569.6,91.1 568.8,92.2 568.1,90.1 566.3,90.7 568.6,92.2 565.9,92.6 568.8,94.2 565.5,94.5 568.1,97.5 566.4,97.6 564.4,97.5"/>
<path d="M430.8,245.4 430.9,244.2 431.7,242.8 430.0,242.1 429.9,240.9 429.8,239.8 428.3,239.0 429.0,237.6 429.1,236.4 429.3,234.9 427.3,233.5 428.1,232.5 427.5,231.3 430.0,230.5 429.7,229.3 427.8,228.0 430.9,227.2 431.0,226.1 430.1,225.0 430.0,223.8 428.6,222.5 428.1,221.2 429.7,220.0 428.2,218.8 428.9,216.3 429.6,215.4 429.5,214.1 431.2,213.7 431.6,212.7 433.3,212.3 432.9,210.8 433.7,210.0 433.8,208.8 434.8,208.0 435.2,206.1 435.9,204.9 438.2,206.1 439.2,205.4 439.8,204.3 440.6,203.3 440.8,201.6 441.6,200.6 442.7,200.1 443.1,199.0 445.5,199.9 445.6,198.2 447.5,198.5 447.5,196.6 449.6,197.2 450.3,196.2 449.5,193.3 450.6,193.4 453.0,193.9 452.7,192.1 454.7,192.3 454.0,190.2 454.0,188.7 456.1,189.0 457.2,188.4 456.7,186.5 457.0,185.2 459.3,184.3 461.1,185.7 462.0,184.7 462.3,182.4 463.6,182.3 464.5,181.5 465.6,180.9 467.5,182.7 468.0,180.5 468.6,182.2 468.5,181.0 468.0,179.7 469.9,178.9 468.3,177.4 470.1,176.6 468.7,175.1 469.9,174.2 469.5,173.0 470.0,171.9 472.4,171.2 472.7,170.0 472.2,168.1 474.3,168.4 473.3,166.2 474.5,165.7 476.3,165.7 476.5,164.4 475.9,162.5 478.8,163.4 477.2,161.5 477.8,160.5 479.8,160.0 478.9,158.3 479.3,157.2 479.1,155.8 479.7,154.7 481.6,154.2 481.0,152.7 482.6,152.0 482.4,150.6 483.1,149.7 485.0,149.3 484.1,147.6 484.9,146.7 486.2,146.0 484.7,144.0 485.1,143.0 487.7,142.9 487.8,141.7 486.4,140.1 486.5,138.9 488.5,138.3 489.5,137.3 488.1,134.5 490.7,135.3 491.3,134.2 491.5,132.7 491.8,131.4 491.9,129.9 492.5,128.8 495.5,129.9 494.6,127.5 496.5,127.6 496.3,125.7 498.4,126.1 498.7,124.7 498.8,123.1 499.0,122.3 501.1,122.3 500.0,120.2 501.0,119.4 502.6,119.0 503.9,118.9 502.8,117.9 501.3,117.1 502.7,115.1 500.7,115.6 499.3,115.0 499.0,113.5 498.4,112.2 496.6,107.9 497.7,107.4 498.9,107.0 500.1,106.7 499.9,104.9 501.2,104.7 503.2,105.1 504.2,104.5 504.2,103.0 505.0,102.2 505.5,101.0 505.2,99.2 505.8,98.0 506.5,97.1 509.5,97.9 509.7,96.6 511.2,96.2 510.2,93.1 512.3,93.9 512.9,92.8 514.3,92.7 514.4,91.0 516.6,92.0 516.8,88.4 518.4,89.5 519.8,89.8 521.2,90.0 521.8,89.5 522.3,88.5 523.2,87.8 524.1,87.0 523.3,85.1 524.8,84.8 526.0,84.2 526.5,83.2 526.7,80.8 528.2,81.4 529.3,81.1 529.9,79.8 531.0,79.4 531.0,78.7 532.3,78.2 533.1,77.3 532.6,75.3 535.0,75.2 536.7,75.6 537.6,74.7 538.5,73.6 541.6,72.7 541.3,74.2 542.4,74.9 543.4,75.6 543.0,77.6 545.3,79.0 543.0,79.8 545.2,81.2 543.2,82.1 543.5,83.3 544.1,84.5 542.5,85.4 543.0,86.6 540.1,87.2 541.3,86.3 539.6,84.7 539.1,83.3 540.3,82.5 541.8,81.7 540.7,80.2 540.9,79.1 543.5,78.5 543.8,77.1 544.2,75.8 546.6,76.1 548.8,76.5 548.5,78.3 545.6,79.5 546.5,78.5 547.9,77.6 548.5,76.5 548.6,75.3 547.2,73.9 549.1,71.8 550.5,70.7 555.2,72.0 554.3,73.4 553.5,74.9 553.7,76.2 554.4,77.3 553.6,78.7 552.2,76.7 552.4,75.6 553.7,75.0 553.7,73.7 556.7,71.3 557.9,72.2 559.0,73.1 560.3,72.9 561.7,72.6 562.5,75.0"/>
<path d="M483.3,129.9 483.9,129.2 481.7,125.8 482.4,125.2 485.5,126.8 485.8,125.8 486.2,125.0 485.6,123.2 487.2,123.5 488.0,122.9 488.7,122.2 488.4,120.1 489.9,120.4 490.6,119.6 492.3,120.1 493.8,120.5 494.5,119.7 494.3,117.7 494.9,116.7 495.2,115.4 495.4,114.0 496.1,113.4 498.1,114.3 498.4,113.2 499.3,112.7 501.5,113.8 501.1,112.0 501.9,111.4 501.6,109.8 501.5,108.6 503.2,108.8 503.2,107.5 505.0,107.8 507.3,108.5 506.8,106.9 506.9,105.6"/>
<path d="M536.4,232.1 536.9,233.5 538.0,233.2 538.6,234.4 539.5,234.8 541.1,233.3 542.1,233.5 543.1,236.6 543.3,234.3 544.2,233.9 546.0,236.1 546.3,234.0 547.6,234.9 548.1,233.3 549.2,233.6 549.5,231.6 551.0,232.9 552.2,233.3 552.3,231.8 553.0,232.9 554.0,232.9 555.7,231.2 556.0,233.9 557.0,233.5 558.1,232.6 559.2,231.9 559.5,235.0 560.6,233.8 561.4,234.8 562.5,233.8"/>
<path d="M556.8,486.1 555.6,485.8 554.8,484.6 553.5,484.6 552.3,484.2 551.7,482.9 551.3,481.2 550.1,481.0 549.1,480.6 547.5,481.4 546.6,480.2 545.3,480.5 544.0,480.4 542.9,480.2 541.8,479.5 541.5,477.4 540.4,477.3 539.4,476.9 538.4,476.6 536.8,477.7 535.9,476.9 535.2,475.6 534.3,474.9 533.4,474.1 532.4,473.5 530.4,474.8 530.2,473.0 529.3,472.3 528.2,472.0 526.7,472.1 526.2,470.8 524.6,470.9 525.7,468.8 525.0,468.1 523.7,467.8 522.6,467.4 523.2,465.6 521.9,465.3 521.9,464.0 521.2,463.3 519.9,463.0 519.1,462.3 518.8,461.2 517.8,460.6 516.6,460.1 516.4,458.9 517.1,457.3 514.8,457.1 514.3,456.1 515.1,454.4 513.8,453.7 513.8,452.5 513.2,451.7 512.4,451.0 513.4,449.3 511.2,449.4"/>
<path d="M513.5,458.9 514.0,460.0 514.5,461.0 514.9,462.1 515.9,462.8 516.2,463.9 518.2,463.8 518.3,465.2 518.3,466.6 519.5,467.1 519.8,468.2 521.7,468.0 521.9,469.3 523.0,469.7 523.5,470.8 524.3,471.6 525.8,471.4 526.4,472.4 527.1,473.1 527.4,474.8 528.5,475.1 530.0,474.6 530.3,476.3 531.9,475.7 532.4,477.1 533.9,476.7 535.0,476.9 535.3,479.0 536.9,478.3 537.9,478.8 538.5,480.7 539.5,480.8 540.9,479.9 541.5,481.5 542.7,481.0 543.8,481.2"/>
<path d="M355.0,249.5 354.2,250.5 354.2,251.9 354.0,253.2 353.9,254.5 351.9,254.7 351.7,255.9 350.6,256.5 350.8,257.9 349.4,258.4 349.9,260.0 348.2,260.4 348.0,261.4 348.3,262.7 347.6,263.6 346.8,264.4 347.5,265.8 346.3,266.4 345.2,266.9 345.6,268.5 344.0,268.6 343.5,269.7 342.8,270.6 343.6,271.9 343.9,273.1 341.9,273.6 341.7,275.2 343.0,275.6 344.3,275.9 344.7,276.9 344.4,278.0 344.9,279.3 343.1,279.8 343.6,281.0 344.1,282.3 342.8,283.4 344.2,283.7 344.0,285.5 344.9,286.3 346.4,286.4"/>
</g>
<g fill="#333" stroke="#222" stroke-width="0.5">
<circle cx="629.4" cy="526.9" r="0.85"/>
<circle cx="641.2" cy="528.8" r="0.85"/>
<circle cx="635.0" cy="540.0" r="0.85"/>
<circle cx="640.0" cy="543.8" r="0.85"/>
<circle cx="630.6" cy="546.2" r="0.85"/>
<circle cx="632.5" cy="550.6" r="0.85"/>
<circle cx="635.6" cy="553.1" r="0.85"/>
<circle cx="633.8" cy="556.9" r="0.85"/>
<circle cx="631.2" cy="557.5" r="0.85"/>
<circle cx="626.9" cy="556.9" r="0.85"/>
<circle cx="642.5" cy="550.6" r="0.85"/>
<circle cx="645.0" cy="550.0" r="0.85"/>
<circle cx="648.1" cy="551.9" r="0.85"/>
<circle cx="643.8" cy="555.6" r="0.85"/>
<circle cx="640.0" cy="556.2" r="0.85"/>
<circle cx="645.0" cy="559.4" r="0.85"/>
<circle cx="649.4" cy="558.8" r="0.85"/>
<circle cx="655.6" cy="555.0" r="0.85"/>
<circle cx="660.0" cy="557.5" r="0.85"/>
<circle cx="650.0" cy="541.9" r="0.85"/>
<circle cx="655.0" cy="540.6" r="0.85"/>
<circle cx="658.1" cy="544.4" r="0.85"/>
<circle cx="663.1" cy="549.4" r="0.85"/>
<circle cx="665.0" cy="552.5" r="0.85"/>
<circle cx="668.8" cy="550.0" r="0.85"/>
<circle cx="671.9" cy="550.6" r="0.85"/>
<circle cx="648.8" cy="570.6" r="0.85"/>
<circle cx="633.8" cy="584.4" r="0.85"/>
<circle cx="622.5" cy="571.9" r="0.85"/>
<circle cx="503.1" cy="544.0" r="0.85"/>
<circle cx="516.9" cy="545.9" r="0.85"/>
<circle cx="522.5" cy="546.2" r="0.85"/>
<circle cx="525.6" cy="541.9" r="0.85"/>
<circle cx="490.0" cy="571.5" r="0.85"/>
<circle cx="500.9" cy="584.4" r="0.85"/>
<circle cx="490.6" cy="555.0" r="0.85"/>
<circle cx="518.1" cy="582.2" r="0.85"/>
<circle cx="520.0" cy="583.8" r="0.85"/>
</g></g></svg>
<div id="legend">
<div class="lt">Ratio range</div>
<div class="sw" style="top:18.6px;background:#6fa56f"></div><div class="lb" style="top:16.1px">Low to zero gas</div>
<div class="sw" style="top:31.9px;background:#3e4cab"></div><div class="lb" style="top:29.4px">&lt; 1.5</div>
<div class="sw" style="top:45.3px;background:#bccbe8"></div><div class="lb" style="top:42.8px">1.5 - 2.5</div>
<div class="sw" style="top:58.6px;background:#ec8f2e"></div><div class="lb" style="top:56.1px">2.5 - 3.5</div>
<div class="sw" style="top:71.7px;background:#e4603a"></div><div class="lb" style="top:69.2px">&gt; 3.5</div>
<div class="sw" style="top:85.0px;background:#fff;border:1px solid #333;box-sizing:border-box"></div><div class="lb" style="top:82.5px">No data</div>
</div>
<div id="src"><div style="top:602.3px">Source: Eurostat, UK Heat Pump Association (HPA),</div><div style="top:614.2px">Polish Organisation of Heat Pump Technology Development (PORT PC),</div><div style="top:626px">Swiss heat pump association (FWS).</div><div style="top:637.8px">Includes all taxes and levies.</div></div>
<svg id="logo" width="1024" height="682" viewBox="0 0 1024 682">
<g fill="none" stroke="#30325a" stroke-width="3.4" stroke-linecap="butt">
<path d="M892 44.2 C898 41 903 40.6 908 42.2 C913 43.8 917 44.2 921.3 42.6"/>
<path d="M892 49.55 C898 46.35 903 45.95 908 47.55 C913 49.15 917 49.55 921.3 47.95"/>
<path d="M892 54.9 C898 51.7 903 51.3 908 52.9 C913 54.5 917 54.9 921.3 53.3"/>
</g>
<text x="923.8" y="54.2" font-family="Liberation Sans, Arial, sans-serif" font-weight="bold" font-size="25.4" fill="#30325a">ehpa</text>
<text x="960.6" y="38" font-family="Liberation Sans, Arial, sans-serif" font-size="6.8" font-weight="bold" fill="#30325a" textLength="22.4" lengthAdjust="spacingAndGlyphs">25 years</text>
<g fill="#30325a" id="stars">
<polygon points="975.60,24.80 976.37,26.85 978.55,26.94 976.84,28.30 977.42,30.41 975.60,29.20 973.78,30.41 974.36,28.30 972.65,26.94 974.83,26.85"/>
<polygon points="982.50,22.90 983.27,24.95 985.45,25.04 983.74,26.40 984.32,28.51 982.50,27.30 980.68,28.51 981.26,26.40 979.55,25.04 981.73,24.95"/>
<polygon points="989.60,24.80 990.37,26.85 992.55,26.94 990.84,28.30 991.42,30.41 989.60,29.20 987.78,30.41 988.36,28.30 986.65,26.94 988.83,26.85"/>
<polygon points="994.75,30.40 995.52,32.45 997.70,32.54 995.99,33.90 996.57,36.01 994.75,34.80 992.93,36.01 993.51,33.90 991.80,32.54 993.98,32.45"/>
<polygon points="997.10,37.50 997.87,39.55 1000.05,39.64 998.34,41.00 998.92,43.11 997.10,41.90 995.28,43.11 995.86,41.00 994.15,39.64 996.33,39.55"/>
<polygon points="994.75,45.00 995.52,47.05 997.70,47.14 995.99,48.50 996.57,50.61 994.75,49.40 992.93,50.61 993.51,48.50 991.80,47.14 993.98,47.05"/>
<polygon points="989.60,49.80 990.37,51.85 992.55,51.94 990.84,53.30 991.42,55.41 989.60,54.20 987.78,55.41 988.36,53.30 986.65,51.94 988.83,51.85"/>
</g>
</svg>
</body>
</html>
